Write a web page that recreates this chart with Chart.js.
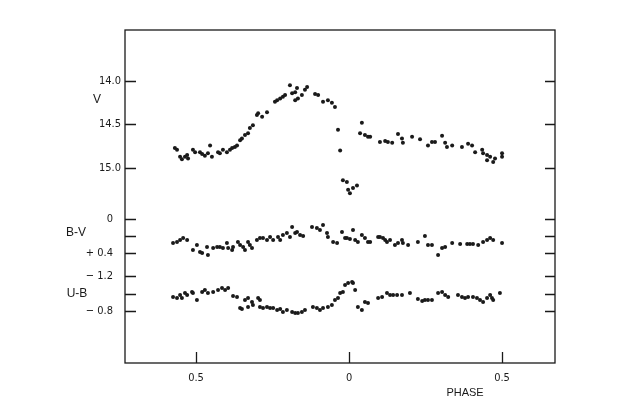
<!DOCTYPE html>
<html>
<head>
<meta charset="utf-8">
<script src="https://cdn.jsdelivr.net/npm/chart.js@4/dist/chart.umd.min.js"></script>
<style>
  body { margin: 0; background: #fff; }
  canvas { display: block; }
</style>
</head>
<body>
<canvas id="lightCurve" width="617" height="408"></canvas>
<script>
// V light curve
const phaseV = [-0.569, -0.562, -0.552, -0.546, -0.536, -0.529, -0.526, -0.510, -0.503, -0.487,
  -0.480, -0.471, -0.461, -0.454, -0.448, -0.428, -0.422, -0.412, -0.399, -0.389,
  -0.382, -0.373, -0.366, -0.356, -0.350, -0.340, -0.330, -0.324, -0.314, -0.301,
  -0.297, -0.284, -0.268, -0.242, -0.235, -0.225, -0.216, -0.209, -0.193, -0.186,
  -0.176, -0.170, -0.176, -0.167, -0.154, -0.144, -0.137, -0.111, -0.101, -0.085,
  -0.069, -0.056, -0.046, -0.036, -0.029, -0.020, -0.007, -0.003, 0.003, 0.013,
  0.026, 0.036, 0.042, 0.052, 0.062, 0.069, 0.101, 0.118, 0.127, 0.141,
  0.160, 0.173, 0.176, 0.206, 0.232, 0.258, 0.271, 0.281, 0.304, 0.314,
  0.320, 0.337, 0.369, 0.389, 0.402, 0.412, 0.435, 0.438, 0.451, 0.461,
  0.451, 0.471, 0.477, 0.500, 0.500];
const magV = [14.77, 14.79, 14.87, 14.90, 14.87, 14.85, 14.89, 14.79, 14.82, 14.82,
  14.84, 14.86, 14.83, 14.74, 14.87, 14.82, 14.83, 14.79, 14.82, 14.79,
  14.77, 14.76, 14.74, 14.68, 14.66, 14.62, 14.60, 14.54, 14.51, 14.39,
  14.37, 14.41, 14.36, 14.24, 14.22, 14.20, 14.18, 14.16, 14.05, 14.14,
  14.13, 14.08, 14.22, 14.20, 14.16, 14.10, 14.07, 14.15, 14.16, 14.24,
  14.22, 14.25, 14.30, 14.56, 14.80, 15.14, 15.16, 15.25, 15.29, 15.23,
  15.20, 14.60, 14.48, 14.62, 14.64, 14.64, 14.70, 14.69, 14.70, 14.71,
  14.61, 14.66, 14.71, 14.64, 14.67, 14.74, 14.70, 14.70, 14.63, 14.71,
  14.76, 14.74, 14.76, 14.72, 14.74, 14.82, 14.79, 14.83, 14.85, 14.87,
  14.91, 14.93, 14.89, 14.83, 14.87];

// B-V colour
const phaseBV = [-0.575, -0.562, -0.552, -0.542, -0.529, -0.510, -0.497, -0.487, -0.480, -0.464,
  -0.461, -0.444, -0.431, -0.422, -0.412, -0.399, -0.395, -0.382, -0.379, -0.363,
  -0.356, -0.346, -0.340, -0.330, -0.324, -0.317, -0.301, -0.291, -0.281, -0.268,
  -0.258, -0.248, -0.232, -0.225, -0.216, -0.203, -0.193, -0.186, -0.176, -0.170,
  -0.160, -0.150, -0.121, -0.105, -0.095, -0.085, -0.072, -0.069, -0.052, -0.039,
  -0.023, -0.013, -0.007, 0.003, 0.013, 0.020, 0.029, 0.042, 0.052, 0.062,
  0.069, 0.095, 0.101, 0.111, 0.118, 0.124, 0.134, 0.150, 0.160, 0.173,
  0.176, 0.193, 0.225, 0.248, 0.258, 0.271, 0.291, 0.304, 0.314, 0.337,
  0.363, 0.386, 0.395, 0.405, 0.422, 0.438, 0.451, 0.461, 0.471, 0.500];
const bv = [0.282, 0.271, 0.247, 0.224, 0.247, 0.365, 0.306, 0.388, 0.400, 0.329,
  0.424, 0.341, 0.329, 0.329, 0.341, 0.282, 0.341, 0.365, 0.329, 0.271,
  0.306, 0.329, 0.365, 0.271, 0.306, 0.341, 0.247, 0.224, 0.224, 0.247,
  0.212, 0.247, 0.212, 0.247, 0.188, 0.165, 0.212, 0.094, 0.165, 0.153,
  0.188, 0.200, 0.094, 0.106, 0.129, 0.070, 0.165, 0.212, 0.271, 0.282,
  0.153, 0.224, 0.224, 0.235, 0.129, 0.247, 0.271, 0.188, 0.224, 0.271,
  0.271, 0.212, 0.212, 0.224, 0.247, 0.271, 0.247, 0.306, 0.282, 0.247,
  0.282, 0.306, 0.271, 0.200, 0.306, 0.306, 0.424, 0.341, 0.329, 0.282,
  0.294, 0.294, 0.294, 0.294, 0.306, 0.271, 0.247, 0.224, 0.247, 0.282];

// U-B colour
const phaseUB = [-0.575, -0.562, -0.552, -0.546, -0.536, -0.529, -0.513, -0.510, -0.497, -0.480,
  -0.471, -0.461, -0.444, -0.428, -0.415, -0.405, -0.395, -0.379, -0.366, -0.356,
  -0.350, -0.340, -0.330, -0.330, -0.317, -0.314, -0.297, -0.291, -0.291, -0.281,
  -0.268, -0.258, -0.248, -0.235, -0.225, -0.216, -0.203, -0.186, -0.176, -0.167,
  -0.154, -0.144, -0.118, -0.105, -0.095, -0.085, -0.069, -0.056, -0.046, -0.036,
  -0.029, -0.020, -0.013, -0.003, 0.010, 0.013, 0.020, 0.029, 0.042, 0.052,
  0.062, 0.095, 0.108, 0.124, 0.134, 0.144, 0.157, 0.173, 0.199, 0.225,
  0.239, 0.248, 0.258, 0.271, 0.291, 0.304, 0.314, 0.324, 0.356, 0.369,
  0.379, 0.389, 0.405, 0.418, 0.428, 0.438, 0.451, 0.461, 0.467, 0.471, 0.493];
const ub = [-0.960, -0.949, -0.983, -0.949, -1.006, -0.983, -1.017, -1.006, -0.926, -1.017,
  -1.040, -1.006, -1.017, -1.040, -1.063, -1.040, -1.063, -0.971, -0.960, -0.834,
  -0.823, -0.926, -0.949, -0.846, -0.903, -0.869, -0.949, -0.926, -0.846, -0.834,
  -0.846, -0.834, -0.834, -0.811, -0.823, -0.789, -0.811, -0.789, -0.777, -0.777,
  -0.789, -0.811, -0.846, -0.834, -0.811, -0.834, -0.846, -0.869, -0.926, -0.949,
  -1.006, -1.017, -1.097, -1.120, -1.131, -1.120, -1.040, -0.846, -0.811, -0.903,
  -0.891, -0.949, -0.960, -1.006, -0.983, -0.983, -0.983, -0.983, -1.006, -0.937,
  -0.914, -0.926, -0.926, -0.926, -1.006, -1.017, -0.983, -0.960, -0.983, -0.960,
  -0.949, -0.960, -0.960, -0.949, -0.926, -0.903, -0.949, -0.983, -0.949, -0.926, -1.006];

// ticks: value + label ('' = bare tick mark)
const phaseTicks = [-0.5, 0, 0.5];
const phaseTickLabels = ["0.5", "0", "0.5"];
const vTicks = [14.0, 14.5, 15.0];
const vTickLabels = ["14.0", "14.5", "15.0"];
const bvTicks = [0, 0.2, 0.4];
const bvTickLabels = ["0", "", "+ 0.4"];
const ubTicks = [-1.2, -1.0, -0.8];
const ubTickLabels = ["\u2212 1.2", "", "\u2212 0.8"];

const ink = "#1a1a1a";
const labelFont = "11px 'Liberation Sans Narrow', 'DejaVu Sans Condensed', 'Liberation Sans', sans-serif";

function toPoints(xs, ys) {
  return xs.map((x, i) => ({ x: x, y: ys[i] }));
}

function fixedTicks(values) {
  return (scale) => { scale.ticks = values.map((v) => ({ value: v })); };
}

// the three y scales overlap over the full height, each one offset so its
// data lands in its own band; labels are painted by the frame plugin
function yAxis(min, max, values) {
  return {
    type: "linear",
    position: "left",
    reverse: true,
    min: min,
    max: max,
    afterBuildTicks: fixedTicks(values),
    afterFit: (s) => { s.width = 0; },
    grid: { display: false, drawTicks: false },
    border: { display: false },
    ticks: { display: false },
  };
}

const yGroups = [
  { id: "yV", values: vTicks, labels: vTickLabels, gap: 4 },
  { id: "yBV", values: bvTicks, labels: bvTickLabels, gap: 12 },
  { id: "yUB", values: ubTicks, labels: ubTickLabels, gap: 12 },
];

const framePlugin = {
  id: "frame",
  afterDraw(chart) {
    const { ctx, chartArea: a, scales } = chart;
    ctx.save();
    ctx.strokeStyle = ink;
    ctx.lineWidth = 1.3;
    ctx.strokeRect(a.left, a.top, a.right - a.left, a.bottom - a.top);

    ctx.beginPath();
    yGroups.forEach((g) => {
      g.values.forEach((v) => {
        const y = Math.round(scales[g.id].getPixelForValue(v)) + 0.5;
        ctx.moveTo(a.left, y); ctx.lineTo(a.left + 11, y);
        ctx.moveTo(a.right, y); ctx.lineTo(a.right - 10, y);
      });
    });
    phaseTicks.forEach((v) => {
      const x = Math.round(scales.x.getPixelForValue(v)) + 0.5;
      ctx.moveTo(x, a.bottom); ctx.lineTo(x, a.bottom - 11);
    });
    ctx.stroke();

    ctx.fillStyle = ink;
    ctx.font = labelFont;
    ctx.textAlign = "right";
    ctx.textBaseline = "middle";
    yGroups.forEach((g) => {
      g.values.forEach((v, i) => {
        if (g.labels[i]) ctx.fillText(g.labels[i], a.left - g.gap, scales[g.id].getPixelForValue(v));
      });
    });

    ctx.font = "12px 'Liberation Sans', sans-serif";
    ctx.textAlign = "center";
    ctx.fillText("V", a.left - 28, scales.yV.getPixelForValue(14.21));
    ctx.fillText("B-V", a.left - 49, scales.yBV.getPixelForValue(0.165));
    ctx.fillText("U-B", a.left - 48, scales.yUB.getPixelForValue(-1.0));
    ctx.font = "11px 'Liberation Sans', sans-serif";
    ctx.fillText("PHASE", scales.x.getPixelForValue(0.379), a.bottom + 30);
    ctx.restore();
  },
};

const dot = { pointRadius: 2, pointHoverRadius: 2, pointBackgroundColor: ink, pointBorderWidth: 0, showLine: false };

new Chart(document.getElementById("lightCurve"), {
  type: "scatter",
  data: {
    datasets: [
      Object.assign({ label: "V", data: toPoints(phaseV, magV), yAxisID: "yV" }, dot),
      Object.assign({ label: "B-V", data: toPoints(phaseBV, bv), yAxisID: "yBV" }, dot),
      Object.assign({ label: "U-B", data: toPoints(phaseUB, ub), yAxisID: "yUB" }, dot),
    ],
  },
  options: {
    responsive: false,
    animation: false,
    layout: { padding: { left: 125, right: 62, top: 30, bottom: 15 } },
    plugins: { legend: { display: false }, tooltip: { enabled: false } },
    scales: {
      x: {
        type: "linear",
        min: -0.732,
        max: 0.673,
        afterBuildTicks: fixedTicks(phaseTicks),
        afterFit: (s) => { s.height = 30; },
        grid: { display: false, drawTicks: false },
        border: { display: false },
        ticks: {
          color: ink,
          font: { family: "'Liberation Sans Narrow', 'DejaVu Sans Condensed', 'Liberation Sans', sans-serif", size: 11 },
          padding: 9,
          callback: (v) => phaseTickLabels[phaseTicks.indexOf(v)] || "",
        },
      },
      yV: yAxis(13.414, 17.241, vTicks),
      yBV: yAxis(-2.2235, 1.694, bvTicks),
      yUB: yAxis(-4.011, -0.206, ubTicks),
    },
  },
  plugins: [framePlugin],
});
</script>
</body>
</html>
